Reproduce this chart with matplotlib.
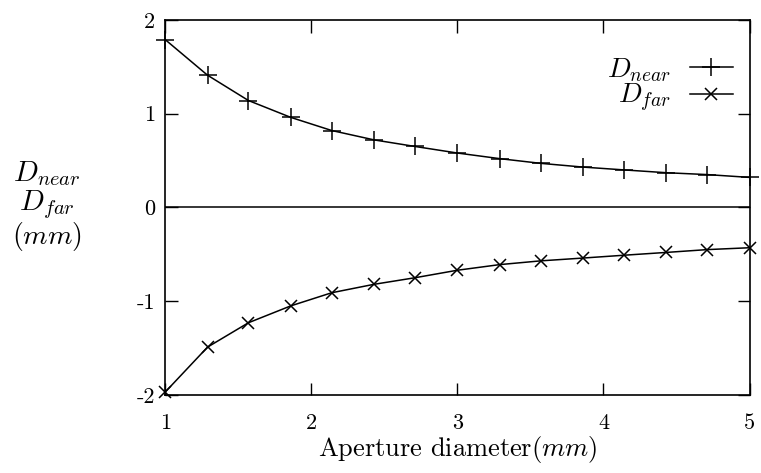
import matplotlib
matplotlib.use("Agg")
import matplotlib.pyplot as plt

plt.rcParams['font.family'] = 'cmr10'
plt.rcParams['mathtext.fontset'] = 'cm'
plt.rcParams['axes.formatter.use_mathtext'] = True

# data
aperture = [1.0, 1.29, 1.57, 1.86, 2.14, 2.43, 2.71, 3.0, 3.29, 3.57, 3.86, 4.14, 4.43, 4.71, 5.0]
d_near = [1.79, 1.41, 1.14, 0.96, 0.82, 0.72, 0.65, 0.58, 0.52, 0.47, 0.43, 0.40, 0.37, 0.35, 0.32]
d_far = [-1.97, -1.49, -1.23, -1.05, -0.91, -0.82, -0.75, -0.67, -0.61, -0.57, -0.54, -0.51, -0.48, -0.45, -0.43]
xticks = [1, 2, 3, 4, 5]
yticks = [-2, -1, 0, 1, 2]

my_dpi = 100
fig = plt.figure(figsize=(761/my_dpi, 473/my_dpi), dpi=my_dpi)
ax = fig.add_axes([0.217, 0.165, 0.768, 0.793])

ax.plot(aperture, d_near, color='black', lw=1.1, marker='+', ms=13, mew=1.1,
        label=r'$D_{near}$', clip_on=False)
ax.plot(aperture, d_far, color='black', lw=1.1, marker='x', ms=9, mew=1.1,
        label=r'$D_{far}$', clip_on=False)
ax.axhline(0, color='black', lw=1.1)

ax.set_xlim(1, 5)
ax.set_ylim(-2, 2)
ax.set_xticks(xticks)
ax.set_yticks(yticks)
ax.set_xticklabels([str(t) for t in xticks], fontsize=16)
ax.set_yticklabels([str(t) for t in yticks], fontsize=16)
ax.tick_params(direction='in', length=9, width=1.0, top=True, right=True)
ax.tick_params(axis='x', pad=13)
ax.tick_params(axis='y', pad=7)
for s in ax.spines.values():
    s.set_linewidth(1.2)

ax.set_xlabel(r'Aperture diameter($mm$)', fontsize=19, labelpad=1)

fig.text(0.062, 0.634, r'$D_{near}$', fontsize=21, ha='center', va='center')
fig.text(0.062, 0.568, r'$D_{far}$', fontsize=21, ha='center', va='center')
fig.text(0.062, 0.501, r'$(mm)$', fontsize=20, ha='center', va='center')

leg = ax.legend(loc='upper right', bbox_to_anchor=(0.971, 0.904), frameon=False,
                markerfirst=False, fontsize=20, handlelength=1.55, handletextpad=0.65,
                labelspacing=-0.05, borderpad=0, borderaxespad=0)

plt.savefig('out.png', dpi=my_dpi)
plt.close('all')
